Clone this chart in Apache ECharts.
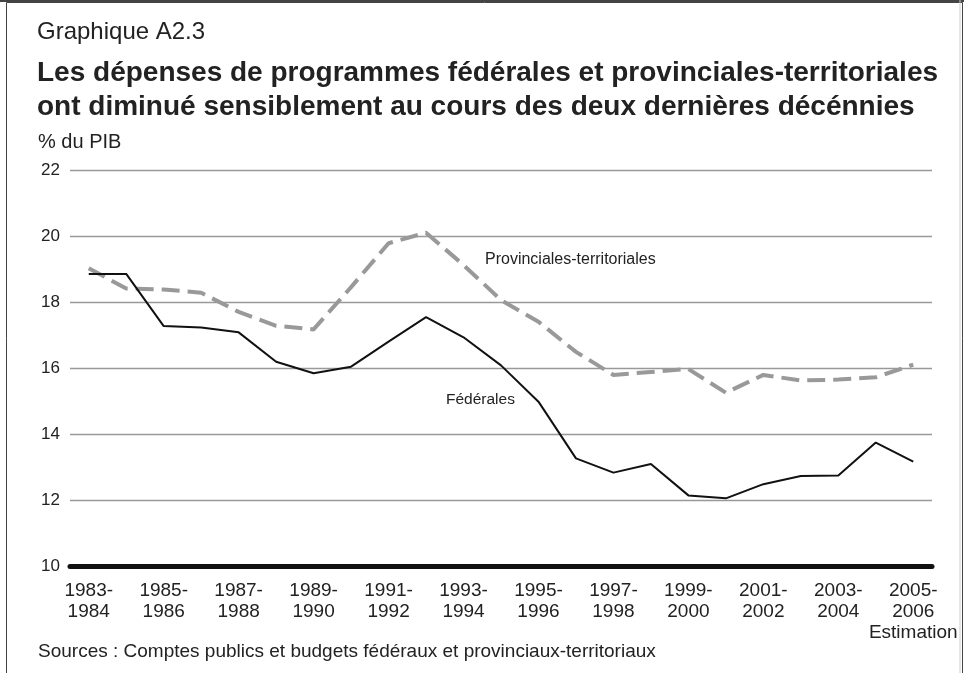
<!DOCTYPE html>
<html>
<head>
<meta charset="utf-8">
<script src="https://cdn.jsdelivr.net/npm/echarts@6/dist/echarts.min.js"></script>
<style>
    html, body { margin: 0; padding: 0; background: #fff; }
    #chart { width: 964px; height: 673px; }
</style>
</head>
<body>
<div id="chart"></div>
<script>
    // exercices financiers
    const years = ['1983-1984', '1984-1985', '1985-1986', '1986-1987', '1987-1988', '1988-1989',
        '1989-1990', '1990-1991', '1991-1992', '1992-1993', '1993-1994', '1994-1995', '1995-1996',
        '1996-1997', '1997-1998', '1998-1999', '1999-2000', '2000-2001', '2001-2002', '2002-2003',
        '2003-2004', '2004-2005', '2005-2006'];
    // % du PIB
    const federales = [18.85, 18.85, 17.27, 17.23, 17.08, 16.19, 15.84, 16.04, 16.8, 17.54, 16.93,
        16.08, 14.98, 13.26, 12.83, 13.09, 12.14, 12.05, 12.48, 12.73, 12.74, 13.74, 13.16];
    const provinciales = [19.02, 18.41, 18.38, 18.28, 17.7, 17.28, 17.17, 18.45, 19.78, 20.1, 19.12,
        18.06, 17.4, 16.49, 15.79, 15.88, 15.97, 15.25, 15.79, 15.62, 15.65, 15.72, 16.1];
    const yTicks = [10, 12, 14, 16, 18, 20, 22];

    let chart = echarts.init(document.getElementById('chart'));
    const font = '"Liberation Sans", Arial, Helvetica, sans-serif';

    chart.setOption({
        backgroundColor: '#fff',
        animation: false,
        textStyle: { fontFamily: font },
        grid: { left: 70, right: 32, top: 170, bottom: 107 },
        xAxis: {
            type: 'category',
            data: years,
            boundaryGap: true,
            axisLine: { lineStyle: { color: '#111', width: 5 } },
            axisTick: { alignWithLabel: true, interval: 1, length: 8, lineStyle: { color: '#999', width: 1 } },
            axisLabel: {
                interval: 1,
                color: '#222',
                fontSize: 19,
                lineHeight: 21,
                margin: 14,
                formatter: function (v, i) {
                    let s = v.replace('-', '-\n');
                    if (i === years.length - 1) s += '\nEstimation';
                    return s;
                }
            }
        },
        yAxis: {
            type: 'value',
            min: yTicks[0],
            max: yTicks[yTicks.length - 1],
            interval: 2,
            axisLine: { show: false },
            axisTick: { show: false },
            axisLabel: { color: '#222', fontSize: 17, margin: 10 },
            splitLine: { lineStyle: { color: '#999', width: 1.3 } }
        },
        graphic: [
            { type: 'rect', left: 4, top: 0, shape: { width: 956, height: 673 },
              style: { fill: 'none', stroke: '#444', lineWidth: 1 }, silent: true },
            { type: 'line', shape: { x1: 0, y1: 1, x2: 964, y2: 1 }, style: { stroke: '#444', lineWidth: 2 } },
            { type: 'line', shape: { x1: 960, y1: 0, x2: 960, y2: 673 }, style: { stroke: '#ccc', lineWidth: 1 } },
            { type: 'text', left: 37, top: 20, style: { text: 'Graphique A2.3', fontSize: 24, fill: '#222', fontFamily: font } },
            { type: 'text', left: 37, top: 56, style: {
                text: 'Les dépenses de programmes fédérales et provinciales-territoriales\nont diminué sensiblement au cours des deux dernières décénnies',
                fontSize: 28, fontWeight: 'bold', lineHeight: 34, fill: '#222', fontFamily: font } },
            { type: 'text', left: 38, top: 132, style: { text: '% du PIB', fontSize: 20, fill: '#222', fontFamily: font } },
            { type: 'text', left: 485, top: 252, style: { text: 'Provinciales-territoriales', fontSize: 16, fill: '#222', fontFamily: font } },
            { type: 'text', left: 446, top: 392, style: { text: 'Fédérales', fontSize: 15.5, fill: '#222', fontFamily: font } },
            { type: 'text', left: 38, top: 642, style: {
                text: 'Sources : Comptes publics et budgets fédéraux et provinciaux-territoriaux',
                fontSize: 19, fill: '#222', fontFamily: font } }
        ],
        series: [
            {
                name: 'Provinciales-territoriales',
                type: 'line',
                data: provinciales,
                symbol: 'none',
                lineStyle: { color: '#999', width: 4, type: [18, 8] },
                z: 3
            },
            {
                name: 'Fédérales',
                type: 'line',
                data: federales,
                symbol: 'none',
                lineStyle: { color: '#111', width: 2 },
                z: 4
            }
        ]
    });
</script>
</body>
</html>
